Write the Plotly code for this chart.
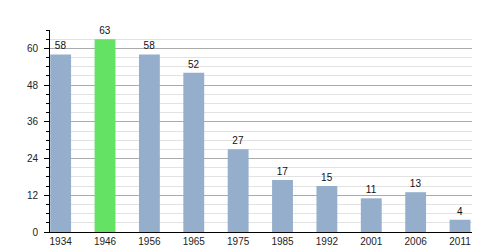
import plotly.graph_objects as go

years = ["1934", "1946", "1956", "1965", "1975", "1985", "1992", "2001", "2006", "2011"]
values = [58, 63, 58, 52, 27, 17, 15, 11, 13, 4]
highlight_year = "1946"

base_color = "#94aecb"
hi_color = "#63e263"
colors = [hi_color if y == highlight_year else base_color for y in years]

fig = go.Figure(go.Bar(
    x=years, y=values, marker=dict(color=colors, line=dict(width=0)),
    width=0.47, text=[str(v) for v in values], textposition="outside",
    textfont=dict(family="Liberation Sans, Arial", size=10, color="#111"),
    cliponaxis=False,
))

fig.update_layout(
    width=500, height=250,
    margin=dict(l=50, r=28, t=30, b=18),
    paper_bgcolor="white", plot_bgcolor="white",
    showlegend=False,
    font=dict(family="Liberation Sans, Arial", size=10, color="#222"),
    bargap=0.5,
)
fig.update_xaxes(
    type="category", range=[-0.24, 9.27], showline=True, linecolor="black", linewidth=1.2,
    ticks="", showgrid=False, automargin=False, tickfont=dict(size=10, color="#222"),
)
fig.update_yaxes(
    range=[0, 66], tick0=0, dtick=12, showline=True, linecolor="black", linewidth=1,
    ticks="outside", ticklen=5, tickcolor="black", showgrid=True, gridcolor="#aaaaaa",
    gridwidth=1, zeroline=False, automargin=False, tickfont=dict(size=10, color="#222"),
    ticklabelstandoff=4,
    minor=dict(dtick=3, tick0=0, showgrid=True, gridcolor="#e2e2e2", ticks="outside",
               ticklen=3, tickcolor="black"),
)

fig.write_html("out.html")
